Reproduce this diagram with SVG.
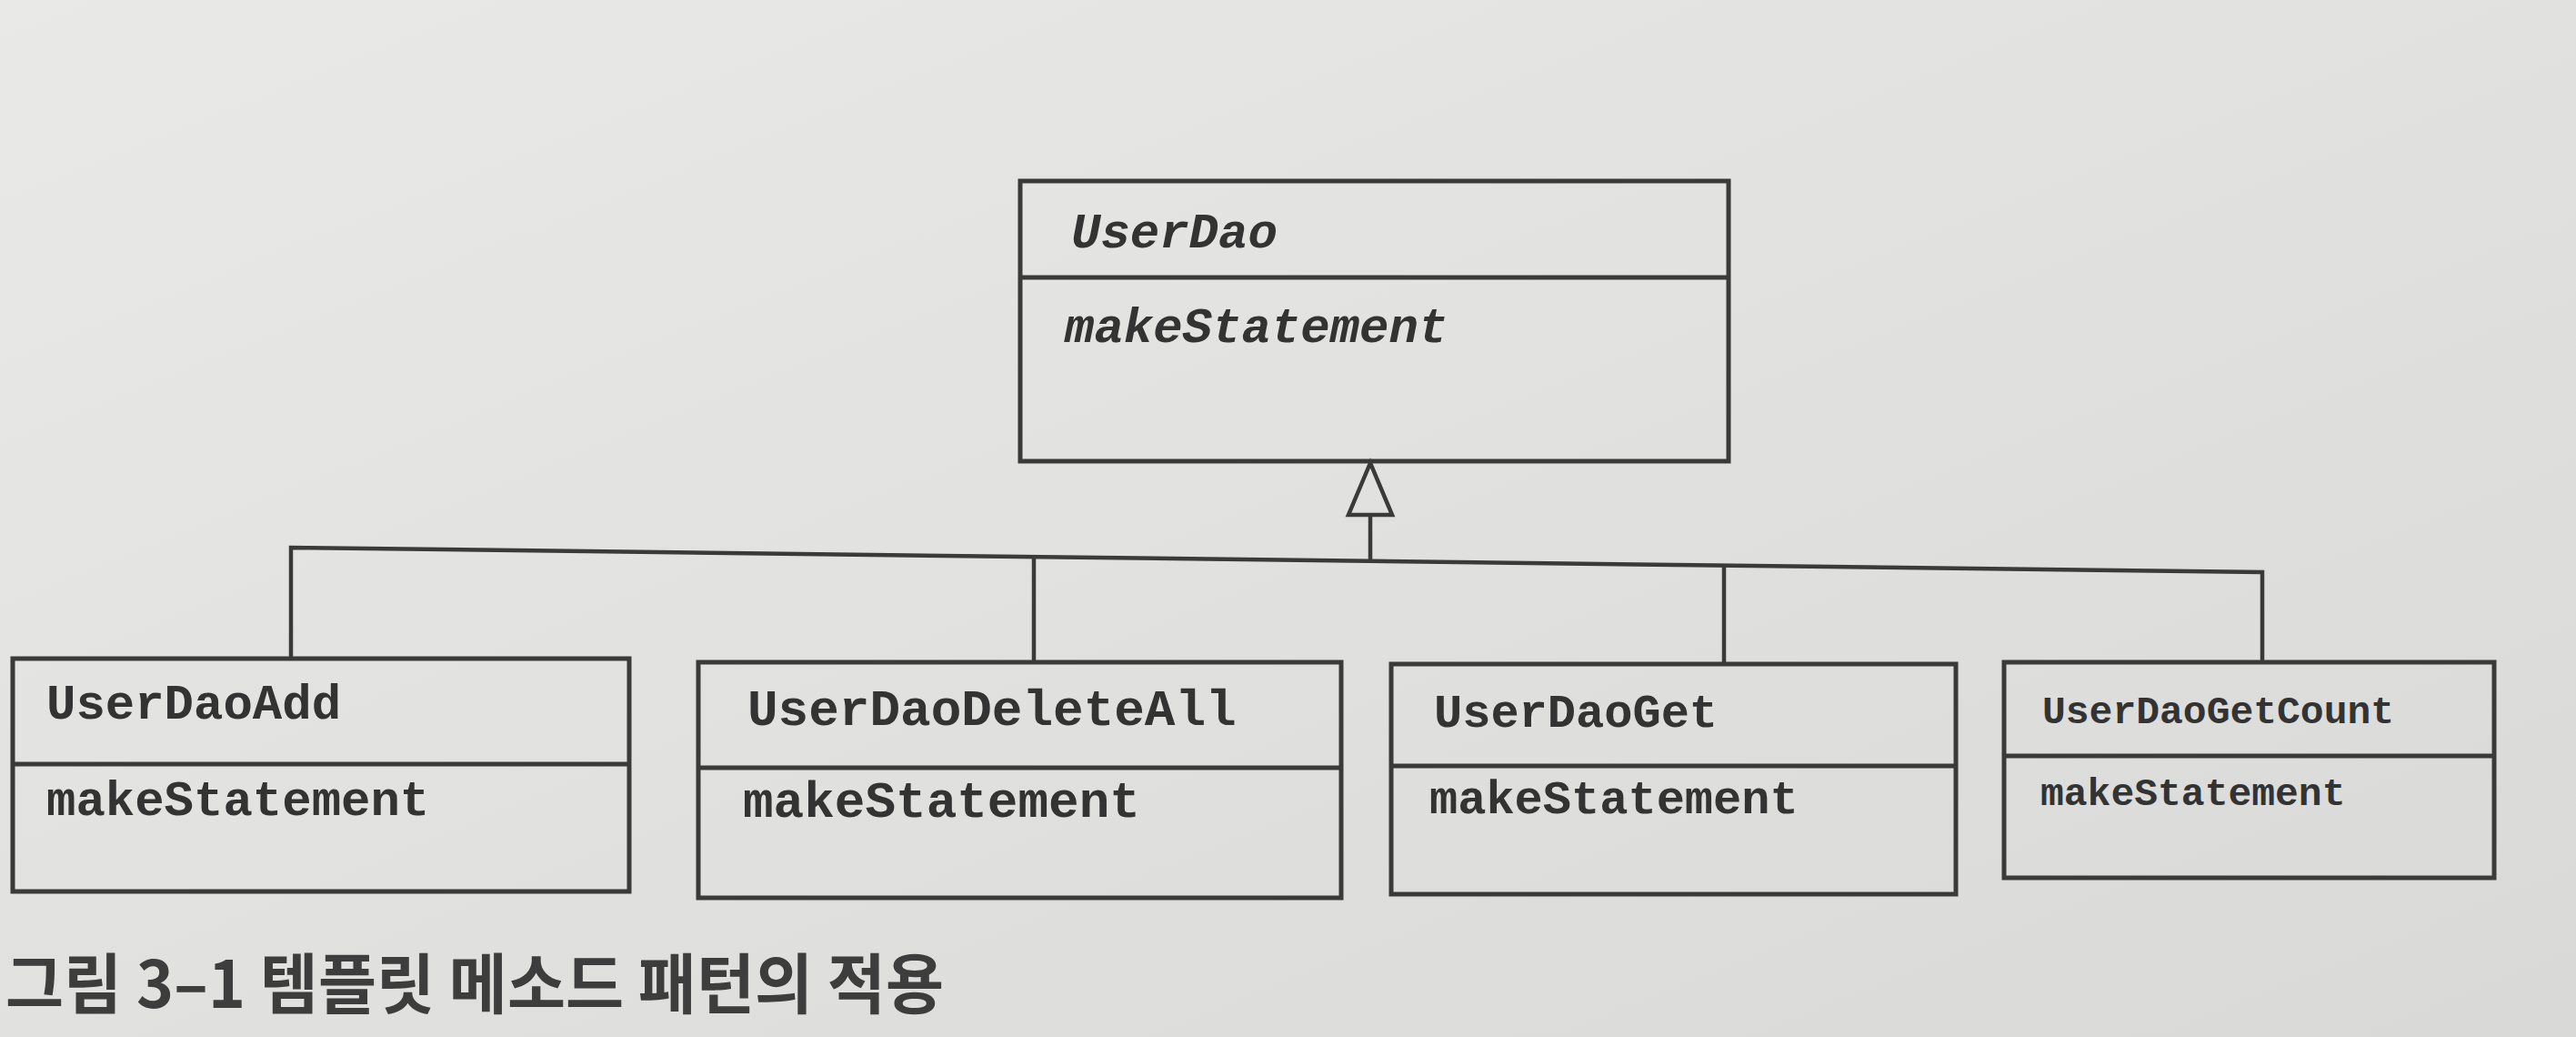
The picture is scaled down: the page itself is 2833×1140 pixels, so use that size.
<svg xmlns="http://www.w3.org/2000/svg" width="2833" height="1140" viewBox="0 0 2833 1140">
<defs>
<linearGradient id="bg" x1="0" y1="0" x2="1" y2="1">
<stop offset="0" stop-color="#e9e9e7"/>
<stop offset="1" stop-color="#d9d9d7"/>
</linearGradient>
<style>
.box{fill:none;stroke:#3a3a3a;stroke-width:5}
.ln{fill:none;stroke:#3a3a3a;stroke-width:4.5}
.t{font-family:"Liberation Mono","Courier New",monospace;font-weight:bold;fill:#333}
.it{font-style:italic}
.cap{font-family:"Noto Sans CJK KR","Noto Sans",sans-serif;font-weight:bold;fill:#3d3d3d}
</style>
</defs>
<rect width="2833" height="1140" fill="url(#bg)"/>
<g id="connectors">
<polyline class="ln" points="320,724 320,602 2488,629 2488,728"/>
<line class="ln" x1="1137" y1="612" x2="1137" y2="728"/>
<line class="ln" x1="1896" y1="621" x2="1896" y2="730"/>
<line class="ln" x1="1507" y1="616" x2="1507" y2="566"/>
<polygon class="ln" points="1507,509 1483,566 1531,566" fill="none"/>
</g>
<g id="UserDao">
<rect class="box" x="1122" y="199" width="779" height="308"/>
<line class="box" x1="1122" y1="305" x2="1901" y2="305"/>
<text class="t it" x="1178" y="272" font-size="54">UserDao</text>
<text class="t it" x="1171" y="376" font-size="54">makeStatement</text>
</g>
<g id="UserDaoAdd">
<rect class="box" x="14" y="724" width="678" height="256"/>
<line class="box" x1="14" y1="840" x2="692" y2="840"/>
<text class="t" x="51" y="790" font-size="54">UserDaoAdd</text>
<text class="t" x="51" y="896" font-size="54">makeStatement</text>
</g>
<g id="UserDaoDeleteAll">
<rect class="box" x="768" y="728" width="707" height="259"/>
<line class="box" x1="768" y1="844" x2="1475" y2="844"/>
<text class="t" x="822" y="797" font-size="56">UserDaoDeleteAll</text>
<text class="t" x="817" y="898" font-size="56">makeStatement</text>
</g>
<g id="UserDaoGet">
<rect class="box" x="1530" y="730" width="621" height="253"/>
<line class="box" x1="1530" y1="842" x2="2151" y2="842"/>
<text class="t" x="1577" y="799" font-size="52">UserDaoGet</text>
<text class="t" x="1572" y="894" font-size="52">makeStatement</text>
</g>
<g id="UserDaoGetCount">
<rect class="box" x="2204" y="728" width="539" height="237"/>
<line class="box" x1="2204" y1="831" x2="2743" y2="831"/>
<text class="t" x="2246" y="795" font-size="43">UserDaoGetCount</text>
<text class="t" x="2244" y="885" font-size="43">makeStatement</text>
</g>
<text class="cap" x="6" y="1108" font-size="72" textLength="1032" lengthAdjust="spacingAndGlyphs">그림 3–1 템플릿 메소드 패턴의 적용</text>
</svg>
